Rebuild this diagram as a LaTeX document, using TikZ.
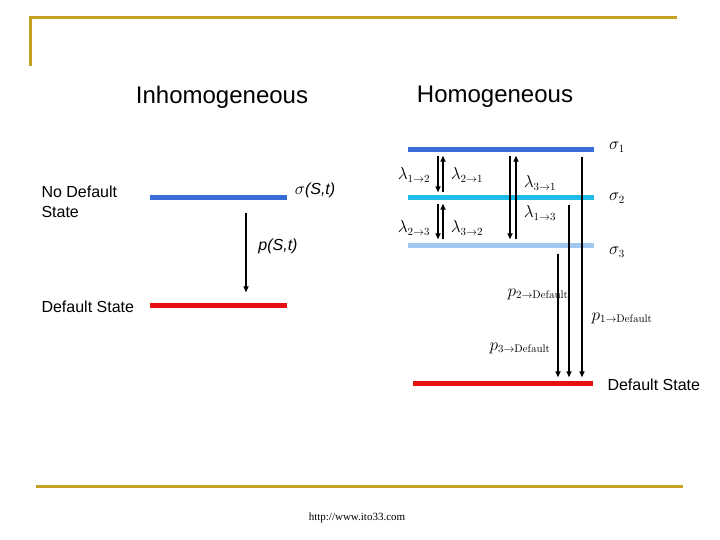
\documentclass[tikz,border=0pt]{standalone}
\usepackage[no-math]{fontspec}
\setmainfont{Liberation Sans}
\newfontfamily\urlfont{Liberation Serif}
\usetikzlibrary{arrows.meta}

\definecolor{frameGold}{RGB}{196,160,36}
\definecolor{levelOne}{RGB}{58,108,216}
\definecolor{levelTwo}{RGB}{30,190,232}
\definecolor{levelThree}{RGB}{160,200,240}
\definecolor{defaultRed}{RGB}{230,16,16}

\begin{document}
\begin{tikzpicture}[
  x=1pt, y=-1pt,
  level/.style={
    rectangle,
    inner sep=0pt,
    minimum height=5pt,
    fill=#1
  },
  heading/.style={font=\fontsize{24}{28}\selectfont},
  caption/.style={font=\fontsize{16}{20}\selectfont, align=left},
  rate/.style={font=\fontsize{16}{19}\selectfont, inner sep=1pt},
  arrow/.style={-{Triangle[length=6pt,width=5pt]}, line width=1.6pt},
  frame/.style={draw=frameGold, line width=3pt}
]
\useasboundingbox (0,0) rectangle (720,540);

% slide frame
\draw[frame] (30,66) -- (30,18) -- (677,18);
\draw[frame] (36,486) -- (683,486);
\node[font=\urlfont\fontsize{11}{13}\selectfont] (url) at (357,518) {http://www.ito33.com};

% titles
\node[heading] (inhom) at (222,97) {Inhomogeneous};
\node[heading] (hom) at (495,97) {Homogeneous};

% inhomogeneous case
\node[level=levelOne, minimum width=137pt] (sig) at (218.5,198) {};
\node[level=defaultRed, minimum width=137pt] (dfl) at (218.5,305) {};
\node[caption, anchor=west] (nodef) at (38,202) {No Default\\State};
\node[caption, anchor=west] (deflab) at (38,307) {Default State};
\node[rate] (siglab) at (315,190) {$\sigma$\textit{(S,t)}};
\node[rate] (plab) at (278,246) {\textit{p(S,t)}};
\draw[arrow, shorten <=12pt, shorten >=10pt]
  ([xshift=27.5]sig.south) -- ([xshift=27.5]dfl.north);

% homogeneous case
\node[level=levelOne, minimum width=186pt] (s1) at (501,150) {};
\node[level=levelTwo, minimum width=186pt] (s2) at (501,198) {};
\node[level=levelThree, minimum width=186pt] (s3) at (501,245) {};
\node[level=defaultRed, minimum width=180pt] (dflt) at (503,383) {};

\node[rate] (l1) at (617,147) {$\sigma_1$};
\node[rate] (l2) at (617,198) {$\sigma_2$};
\node[rate] (l3) at (617,252) {$\sigma_3$};
\node[caption, anchor=west] (deflab2) at (604,385) {Default State};

\draw[arrow, shorten <=3pt, shorten >=3pt] ([xshift=-63]s1.south) -- ([xshift=-63]s2.north);
\draw[arrow, shorten <=3pt, shorten >=3pt] ([xshift=-58]s2.north) -- ([xshift=-58]s1.south);
\draw[arrow, shorten <=3pt, shorten >=3pt] ([xshift=-63]s2.south) -- ([xshift=-63]s3.north);
\draw[arrow, shorten <=3pt, shorten >=3pt] ([xshift=-58]s3.north) -- ([xshift=-58]s2.south);
\draw[arrow, shorten <=3pt, shorten >=3pt] ([xshift=9]s1.south) -- ([xshift=9]s3.north);
\draw[arrow, shorten <=3pt, shorten >=3pt] ([xshift=15]s3.north) -- ([xshift=15]s1.south);

\node[rate] (r12) at (414,175) {$\lambda_{1\to2}$};
\node[rate] (r21) at (467,175) {$\lambda_{2\to1}$};
\node[rate] (r23) at (414,228) {$\lambda_{2\to3}$};
\node[rate] (r32) at (467,228) {$\lambda_{3\to2}$};
\node[rate] (r31) at (540,183) {$\lambda_{3\to1}$};
\node[rate] (r13) at (540,213) {$\lambda_{1\to3}$};

\draw[arrow, shorten <=4pt, shorten >=3pt] ([xshift=81]s1.south) -- ([xshift=81]s1.south |- dflt.north);
\draw[arrow, shorten <=4pt, shorten >=3pt] ([xshift=68]s2.south) -- ([xshift=68]s2.south |- dflt.north);
\draw[arrow, shorten <=6pt, shorten >=3pt] ([xshift=57]s3.south) -- ([xshift=57]s3.south |- dflt.north);

\node[rate] (p2) at (538,294) {$p_{2\to\mathrm{Default}}$};
\node[rate] (p1) at (622,318) {$p_{1\to\mathrm{Default}}$};
\node[rate] (p3) at (520,348) {$p_{3\to\mathrm{Default}}$};

\end{tikzpicture}
\end{document}
